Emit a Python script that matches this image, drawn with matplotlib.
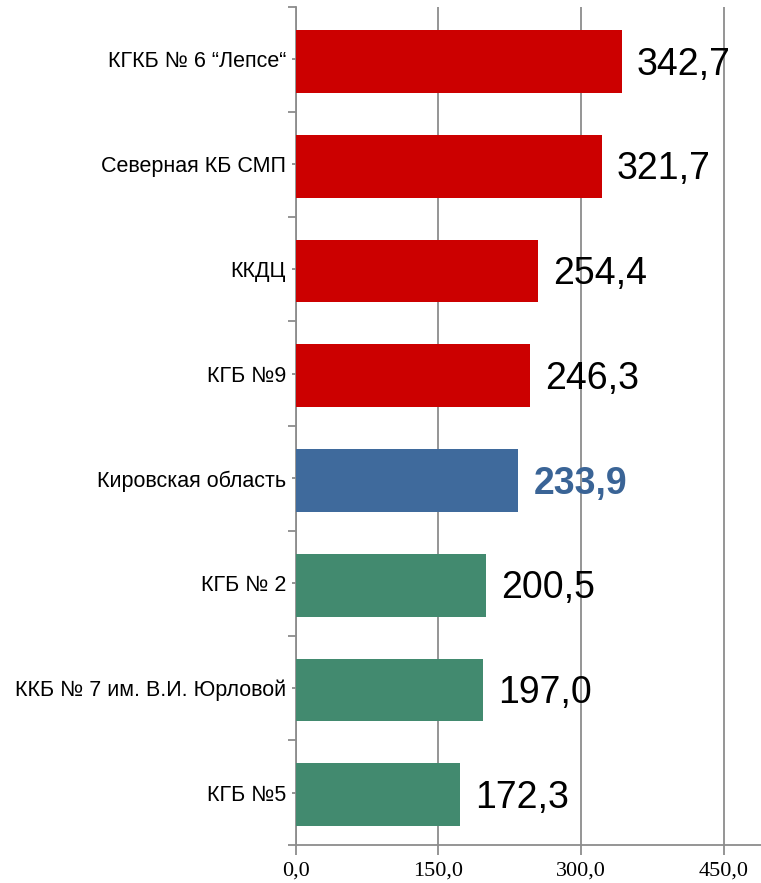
import matplotlib
matplotlib.use("Agg")
import matplotlib.pyplot as plt
import numpy as np

categories = ["КГКБ № 6 “Лепсе“", "Северная КБ СМП", "ККДЦ", "КГБ №9",
              "Кировская область", "КГБ № 2", "ККБ № 7 им. В.И. Юрловой", "КГБ №5"]
values = [342.7, 321.7, 254.4, 246.3, 233.9, 200.5, 197.0, 172.3]
groups = ["high", "high", "high", "high", "region", "low", "low", "low"]
xticks = [0, 150, 300, 450]
xtick_labels = ["0,0", "150,0", "300,0", "450,0"]

colors = {"high": "#CC0000", "region": "#3F6A9C", "low": "#428A6F"}
label_colors = {"high": "black", "region": "#3A6496", "low": "black"}

W, H = 761, 883
fig = plt.figure(figsize=(W/100, H/100), dpi=100)
ax = fig.add_axes([295.7/W, 1-845/H, (761-295.7)/W, (845-7)/H])

n = len(categories)
y = np.arange(n)
ax.barh(y + 0.02, values, height=0.6, color=[colors[g] for g in groups], zorder=3)
ax.set_ylim(n-0.5, -0.5)
ax.set_xlim(0, 489)

for yi, v, g in zip(y, values, groups):
    ax.text(v + 15*150/142.7, yi + 0.05, f"{v:.1f}".replace(".", ","), va="center", ha="left",
            fontsize=27, family="Liberation Sans", color=label_colors[g],
            fontweight="bold" if g == "region" else "normal", zorder=4)

ax.set_xticks(xticks)
ax.set_xticklabels(xtick_labels, family="Liberation Serif", fontsize=16)
ax.xaxis.grid(True, color="#8C8C8C", linewidth=1.3, zorder=1)
ax.tick_params(axis="x", length=7, width=1.3, color="#8C8C8C", pad=5)

ax.set_yticks(np.arange(n+1) - 0.5)
ax.set_yticklabels([])
ax.set_yticks(y, minor=True)
ax.set_yticklabels(categories, minor=True, family="Liberation Sans", fontsize=15.5)
ax.tick_params(axis="y", which="major", length=6, width=1.3, color="#8C8C8C")
ax.tick_params(axis="y", which="minor", length=3, width=1.3, color="#8C8C8C", pad=4)

for s in ["top", "right"]:
    ax.spines[s].set_visible(False)
for s in ["left", "bottom"]:
    ax.spines[s].set_color("#8C8C8C")
    ax.spines[s].set_linewidth(1.3)

fig.savefig("out.png", dpi=100)
